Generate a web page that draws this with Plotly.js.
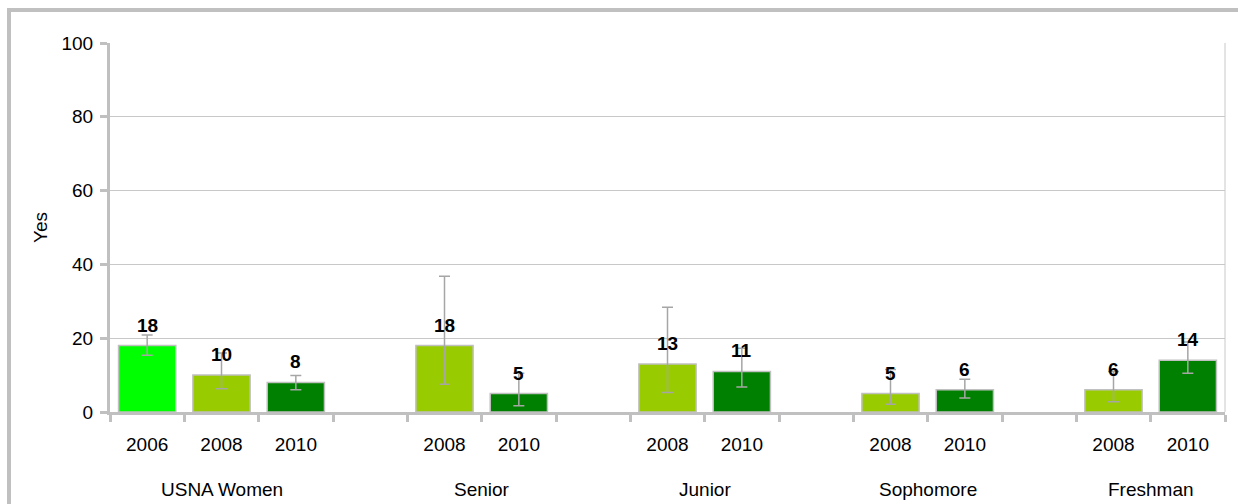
<!DOCTYPE html>
<html>
<head>
<meta charset="utf-8">
<script src="https://cdn.plot.ly/plotly-3.0.1.min.js"></script>
<style>
  html, body { margin: 0; padding: 0; background: #fff; }
  #wrap { position: relative; width: 1238px; height: 504px; overflow: hidden; }
  #chart { position: absolute; left: 0; top: 0; width: 1238px; height: 504px; }
  #frame { position: absolute; left: 7px; top: 8px; width: 1300px; height: 600px;
           border-top: 4px solid #c0c0c0; border-left: 4px solid #c0c0c0;
           pointer-events: none; z-index: 5; }
</style>
</head>
<body>
<div id="wrap">
  <div id="chart"></div>
  <div id="frame"></div>
</div>
<script>
// ---- data ----
const yearLabels = ['2006','2008','2010','','2008','2010','','2008','2010','','2008','2010','','2008','2010'];
const values     = [18, 10, 8, null, 18, 5, null, 13, 11, null, 5, 6, null, 6, 14];
const errPlus    = [2.9, 6, 1.9, null, 18.8, 5.5, null, 15.4, 6.3, null, 6.5, 2.9, null, 5, 5];
const errMinus   = [2.6, 3.7, 2.0, null, 10.5, 3.3, null, 7.7, 4.2, null, 2.9, 2.2, null, 3.2, 3.5];
const groupNames = ['USNA Women', 'Senior', 'Junior', 'Sophomore', 'Freshman'];
const groupSlots = [[0,1,2], [4,5], [7,8], [10,11], [13,14]];
const yearColors = { '2006': '#00ff00', '2008': '#99cc00', '2010': '#008000' };

// ---- build ----
const FONT = 'Liberation Sans, Arial, sans-serif';
const FS = 19;
const xIdx = yearLabels.map((_, i) => i);
const barColors = yearLabels.map(y => yearColors[y] || '#ffffff');

const barTrace = {
  type: 'bar',
  x: xIdx,
  y: values,
  width: 0.77,
  marker: { color: barColors, line: { color: '#c0c0c0', width: 1.5 } },
  error_y: {
    type: 'data', symmetric: false,
    array: errPlus, arrayminus: errMinus,
    color: '#a6a6a6', thickness: 1.5, width: 5.5
  },
  hoverinfo: 'skip'
};

const annotations = [];
values.forEach((v, i) => {
  if (v === null) return;
  annotations.push({
    x: i, y: v, xref: 'x', yref: 'y',
    text: '<b>' + v + '</b>', showarrow: false,
    yanchor: 'bottom', yshift: 8,
    font: { family: FONT, size: FS, color: '#000' }
  });
});
groupNames.forEach((g, k) => {
  const s = groupSlots[k];
  const cx = s.reduce((a, b) => a + b, 0) / s.length;
  annotations.push({
    x: cx, y: -0.2087, xref: 'x', yref: 'paper',
    text: g, showarrow: false, yanchor: 'middle',
    font: { family: FONT, size: FS, color: '#000' }
  });
});

const layout = {
  width: 1238, height: 504,
  margin: { l: 110, r: 13, t: 43, b: 92 },
  paper_bgcolor: '#ffffff', plot_bgcolor: '#ffffff',
  showlegend: false,
  font: { family: FONT, size: FS, color: '#000' },
  xaxis: {
    range: [-0.5, 14.5], fixedrange: true,
    tickmode: 'array', tickvals: xIdx, ticktext: yearLabels,
    ticks: '', showgrid: false, zeroline: false,
    showline: true, linecolor: '#c0c0c0', linewidth: 3,
    ticklabelstandoff: 13,
    tickfont: { family: FONT, size: FS, color: '#000' },
    minor: { tickmode: 'linear', tick0: 0.5, dtick: 1, ticks: 'outside',
             ticklen: 7, tickwidth: 3, tickcolor: '#c0c0c0', showgrid: false }
  },
  yaxis: {
    range: [0, 100], fixedrange: true,
    tickmode: 'linear', tick0: 0, dtick: 20,
    ticks: 'outside', ticklen: 7, tickwidth: 3, tickcolor: '#c0c0c0',
    showgrid: true, gridcolor: '#c8c8c8', gridwidth: 1,
    zeroline: false, showline: true, linecolor: '#c0c0c0', linewidth: 3,
    ticklabelstandoff: 3,
    tickfont: { family: FONT, size: FS, color: '#000' },
    title: { text: 'Yes', standoff: 9, font: { family: FONT, size: FS, color: '#000' } }
  },
  shapes: [{
    type: 'line', xref: 'paper', yref: 'paper', x0: 1, x1: 1, y0: 0, y1: 1,
    line: { color: '#c8c8c8', width: 1 }
  }],
  annotations: annotations
};

Plotly.newPlot('chart', [barTrace], layout, { staticPlot: true, displayModeBar: false });
</script>
</body>
</html>
